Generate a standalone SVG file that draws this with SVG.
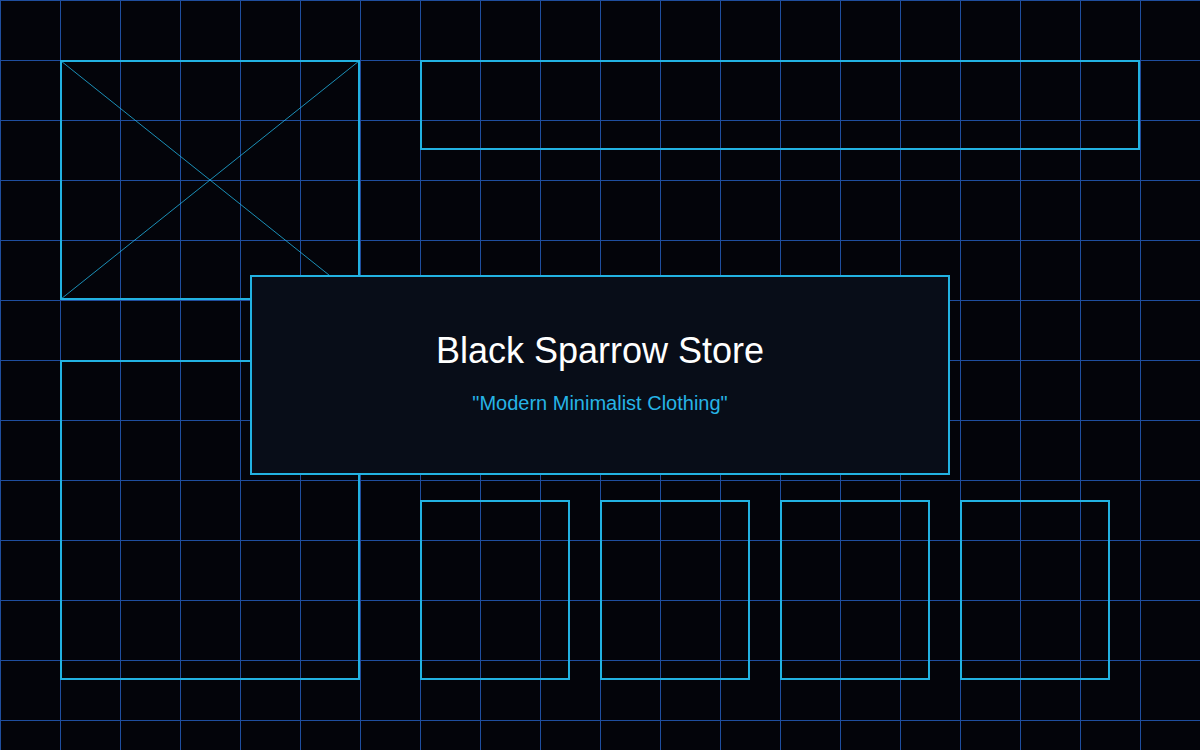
<svg xmlns="http://www.w3.org/2000/svg" width="1200" height="750" viewBox="0 0 1200 750">
<defs>
<pattern id="grid" x="0" y="0" width="60" height="60" patternUnits="userSpaceOnUse">
<path d="M0.5 0 V60 M0 0.5 H60" stroke="#1f4e9e" stroke-width="1" fill="none"/>
</pattern>
<style>
.box{fill:none;stroke:#22b2e2;stroke-width:2}
.x{stroke:#22b2e2;stroke-width:1;opacity:0.8}
.t{font-family:"Liberation Sans",Arial,sans-serif;text-anchor:middle}
</style>
</defs>
<rect width="1200" height="750" fill="#03040a"/>
<rect width="1200" height="750" fill="url(#grid)"/>
<g id="image">
<rect class="box" x="61" y="61" width="298" height="238"/>
<line class="x" x1="61" y1="61" x2="359" y2="299"/>
<line class="x" x1="359" y1="61" x2="61" y2="299"/>
</g>
<g id="header"><rect class="box" x="421" y="61" width="718" height="88"/></g>
<g id="sidebar"><rect class="box" x="61" y="361" width="298" height="318"/></g>
<g id="card1"><rect class="box" x="421" y="501" width="148" height="178"/></g>
<g id="card2"><rect class="box" x="601" y="501" width="148" height="178"/></g>
<g id="card3"><rect class="box" x="781" y="501" width="148" height="178"/></g>
<g id="card4"><rect class="box" x="961" y="501" width="148" height="178"/></g>
<g id="title">
<rect x="251" y="276" width="698" height="198" fill="#080d18" stroke="#22b2e2" stroke-width="2"/>
<text class="t" x="600" y="363" font-size="36" fill="#ffffff">Black Sparrow Store</text>
<text class="t" x="600" y="410" font-size="20" fill="#26b4e6">"Modern Minimalist Clothing"</text>
</g>
</svg>
